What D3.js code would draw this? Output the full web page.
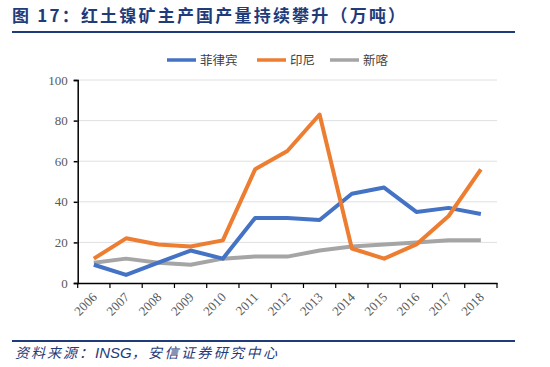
<!DOCTYPE html>
<html><head><meta charset="utf-8">
<script src="https://cdn.jsdelivr.net/npm/d3@7"></script>
<style>body{margin:0;background:#fff}svg{display:block}</style>
</head><body>
<script>
const years = ["2006","2007","2008","2009","2010","2011","2012","2013","2014","2015","2016","2017","2018"];
const philippines = [9,4,10,16,12,32,32,31,44,47,35,37,34];
const indonesia = [12,22,19,18,21,56,65,83,17,12,19,33,56];
const newCaledonia = [10,12,10,9,12,13,13,16,18,19,20,21,21];
const seriesNames = ["菲律宾","印尼","新喀"];
const yTicks = [0,20,40,60,80,100];

const W=550,H=367;
const svg=d3.select("body").append("svg").attr("width",W).attr("height",H);
const blue="#1f3b7a";
// title
svg.append("text").attr("x",12).attr("y",22).attr("fill",blue)
  .attr("font-family","Noto Sans CJK SC").attr("font-weight","bold").attr("font-size",17)
  .attr("letter-spacing",2.2)
  .text("图 17：红土镍矿主产国产量持续攀升（万吨）");
svg.append("line").attr("x1",12).attr("x2",515).attr("y1",32).attr("y2",32).attr("stroke",blue).attr("stroke-width",2);

const x=d3.scaleBand().domain(years).range([77.7,497]);
const y=d3.scaleLinear().domain([0,100]).range([283,80]);

// grid
svg.append("g").selectAll("line").data(yTicks.slice(1)).join("line")
  .attr("x1",77.7).attr("x2",497).attr("y1",d=>y(d)).attr("y2",d=>y(d))
  .attr("stroke","#e0e0e0").attr("stroke-width",1);

// y axis
const ya=svg.append("g").attr("transform","translate(77.7,0)")
  .call(d3.axisLeft(y).tickValues(yTicks).tickSize(4).tickPadding(6));
ya.selectAll("text").attr("font-family","Liberation Serif").attr("font-size",13).attr("fill","#595959");
ya.selectAll("path,line").attr("stroke","#000").attr("stroke-width",1.5);

// x axis
const xa=svg.append("g").attr("transform","translate(0,283)")
  .call(d3.axisBottom(x).tickSizeInner(0).tickSizeOuter(0));
xa.select("path").attr("stroke","#000").attr("stroke-width",1.5);
xa.selectAll(".tick line").remove();
xa.selectAll(".tick text").attr("font-family","Liberation Serif").attr("font-size",13).attr("fill","#595959")
  .attr("text-anchor","end").attr("x",0).attr("y",0).attr("dy",0).attr("transform","translate(4,15) rotate(-45)");
// band boundary ticks
const bounds=years.map(d=>x(d)).concat([x(years[12])+x.bandwidth()]);
svg.append("g").selectAll("line").data(bounds).join("line")
  .attr("x1",d=>d).attr("x2",d=>d).attr("y1",283).attr("y2",288).attr("stroke","#000").attr("stroke-width",1.2);

const cx=d=>x(d)+x.bandwidth()/2;
const line=d3.line().x((d,i)=>cx(years[i])).y(d=>y(d));
const colors=["#4472c4","#ed7d31","#a5a5a5"];
const data=[philippines,indonesia,newCaledonia];
[2,0,1].forEach(k=>{
  svg.append("path").datum(data[k]).attr("d",line).attr("fill","none")
    .attr("stroke",colors[k]).attr("stroke-width",4).attr("stroke-linejoin","round");
});

// legend
const lg=[{x:167,t:seriesNames[0]},{x:257,t:seriesNames[1]},{x:330,t:seriesNames[2]}];
lg.forEach((l,i)=>{
  svg.append("line").attr("x1",l.x).attr("x2",l.x+29).attr("y1",60).attr("y2",60).attr("stroke",colors[i]).attr("stroke-width",3.5);
  svg.append("text").attr("x",l.x+33).attr("y",64.5).attr("font-family","Noto Sans CJK SC").attr("font-size",12.5).attr("fill","#404040").text(l.t);
});

// footer
svg.append("line").attr("x1",12).attr("x2",515).attr("y1",341).attr("y2",341).attr("stroke",blue).attr("stroke-width",2);
const ft=svg.append("text").attr("x",15).attr("y",358).attr("fill",blue).attr("font-style","italic")
  .attr("font-family","Noto Sans CJK SC").attr("font-size",14);
ft.append("tspan").attr("letter-spacing",2).text("资料来源：");
ft.append("tspan").attr("font-family","Liberation Sans").attr("font-size",15).text("INSG");
ft.append("tspan").attr("letter-spacing",2.4).text("，安信证券研究中心");
</script>
</body></html>
